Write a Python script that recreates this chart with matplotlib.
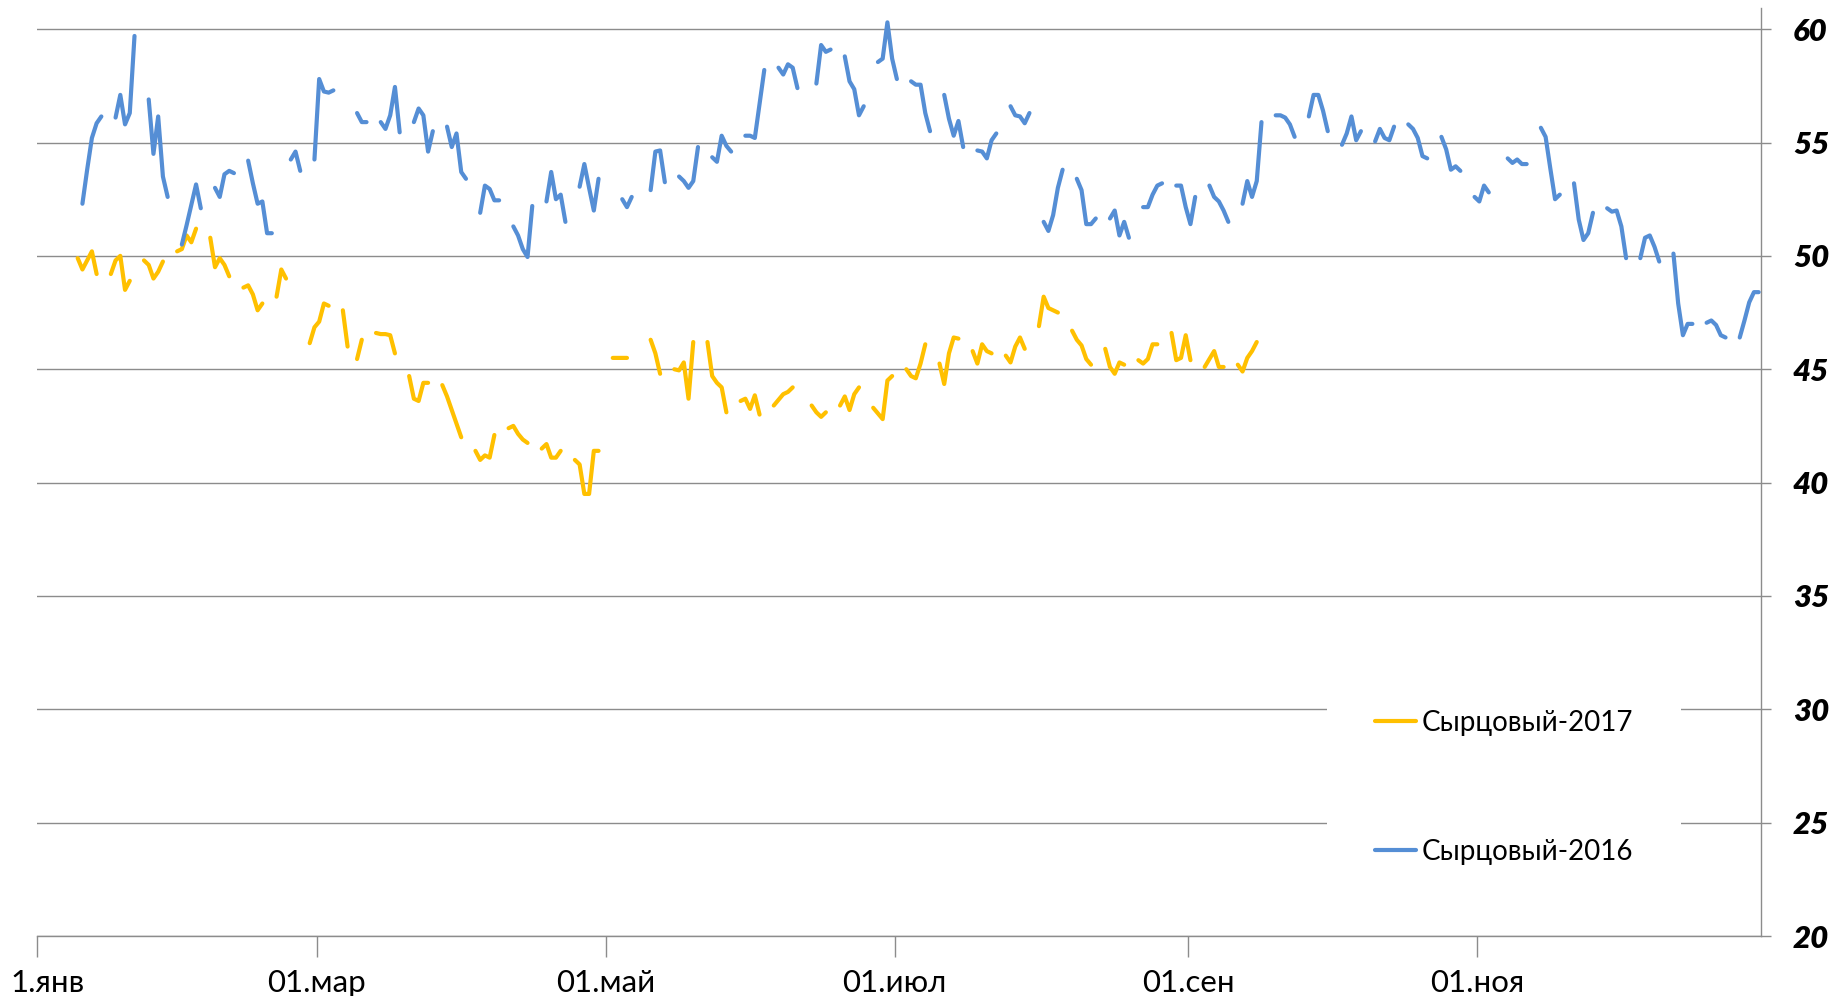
import matplotlib
matplotlib.use("Agg")
import matplotlib.pyplot as plt
import matplotlib.transforms as mtransforms
import numpy as np
import pandas as pd

plt.rcParams['font.family'] = ['Lato', 'Open Sans', 'DejaVu Sans']

# x axis: calendar of 2017, ticks every two months
tick_dates = ["2017-01-01", "2017-03-01", "2017-05-01", "2017-07-01", "2017-09-01", "2017-11-01"]
tick_labels = ["1.янв", "01.мар", "01.май", "01.июл", "01.сен", "01.ноя"]

# Сырцовый-2017: trading weeks starting Monday 9 Jan 2017 (None = holiday)
start_2017 = "2017-01-09"
weeks_2017 = [
    [49.9, 49.4, 49.8, 50.2, 49.2],
    [49.2, 49.8, 50.0, 48.5, 48.9],
    [49.8, 49.6, 49.0, 49.3, 49.75],
    [50.2, 50.3, 50.9, 50.6, 51.2],
    [50.8, 49.5, 49.9, 49.6, 49.1],
    [48.6, 48.7, 48.3, 47.6, 47.9],
    [48.2, 49.4, 49.0, None, None],
    [46.15, 46.85, 47.1, 47.9, 47.8],
    [47.6, 46.0, None, 45.45, 46.3],
    [46.6, 46.55, 46.55, 46.5, 45.7],
    [44.7, 43.7, 43.6, 44.4, 44.4],
    [44.3, 43.8, 43.2, 42.6, 42.0],
    [41.4, 41.0, 41.2, 41.1, 42.1],
    [42.4, 42.5, 42.15, 41.9, 41.75],
    [41.5, 41.7, 41.1, 41.1, 41.4],
    [41.0, 40.8, 39.5, 39.5, 41.4, 41.4],
    [None, 45.5, 45.5, 45.5, 45.5],
    [None, None, 46.3, 45.7, 44.8],
    [45.0, 44.95, 45.3, 43.7, 46.2],
    [46.2, 44.7, 44.4, 44.2, 43.1],
    [43.6, 43.7, 43.25, 43.85, 43.0],
    [43.4, 43.65, 43.9, 44.0, 44.2],
    [None, 43.4, 43.1, 42.9, 43.1],
    [43.4, 43.8, 43.2, 43.9, 44.2],
    [43.3, 43.05, 42.8, 44.5, 44.7],
    [45.0, 44.7, 44.6, 45.25, 46.1],
    [45.25, 44.35, 45.7, 46.4, 46.35],
    [45.8, 45.25, 46.1, 45.8, 45.7],
    [45.6, 45.3, 46.0, 46.4, 45.9],
    [46.9, 48.2, 47.7, 47.6, 47.5],
    [46.7, 46.3, 46.05, 45.45, 45.2],
    [45.9, 45.1, 44.8, 45.3, 45.2],
    [45.4, 45.25, 45.45, 46.1, 46.1],
    [46.6, 45.4, 45.5, 46.5, 45.4],
    [45.1, 45.45, 45.8, 45.1, 45.1],
    [45.2, 44.9, 45.5, 45.8, 46.2],
]

# Сырцовый-2016: 2016 trading weeks shifted one year (+365 days), first week starts Tue 10 Jan 2017
start_2016 = "2017-01-10"
weeks_2016 = [
    [52.3, 53.8, 55.2, 55.85, 56.15],
    [56.1, 57.1, 55.8, 56.3, 59.7],
    [56.9, 54.5, 56.15, 53.5, 52.6],
    [50.5, 51.35, 52.25, 53.15, 52.1],
    [53.0, 52.6, 53.6, 53.75, 53.65],
    [54.2, 53.2, 52.3, 52.4, 51.0, 51.0],
    [None, None, 54.25, 54.6, 53.75],
    [54.25, 57.8, 57.25, 57.2, 57.3],
    [None, None, 56.3, 55.9, 55.9],
    [55.9, 55.6, 56.2, 57.45, 55.45],
    [55.9, 56.5, 56.2, 54.6, 55.5],
    [55.7, 54.8, 55.4, 53.7, 53.4],
    [51.9, 53.1, 52.95, 52.45, 52.45],
    [51.3, 50.9, 50.3, 49.95, 52.2],
    [52.4, 53.7, 52.5, 52.7, 51.5],
    [53.05, 54.05, 53.0, 52.0, 53.4],
    [None, None, 52.5, 52.15, 52.6],
    [None, 52.9, 54.6, 54.65, 53.25],
    [53.5, 53.3, 53.0, 53.3, 54.8],
    [54.35, 54.15, 55.3, 54.85, 54.6],
    [55.3, 55.3, 55.2, 56.7, 58.2],
    [58.3, 58.0, 58.45, 58.3, 57.4],
    [None, 57.6, 59.3, 59.0, 59.1],
    [58.8, 57.7, 57.35, 56.2, 56.6],
    [58.55, 58.7, 60.3, 58.7, 57.8],
    [57.7, 57.55, 57.55, 56.3, 55.5],
    [57.1, 56.05, 55.3, 55.95, 54.8],
    [54.65, 54.6, 54.3, 55.1, 55.4],
    [56.6, 56.2, 56.15, 55.85, 56.3],
    [51.5, 51.1, 51.8, 53.0, 53.8],
    [53.4, 52.9, 51.4, 51.4, 51.65],
    [51.65, 52.0, 50.9, 51.5, 50.8],
    [52.15, 52.15, 52.7, 53.1, 53.2],
    [53.1, 53.1, 52.15, 51.4, 52.6],
    [53.1, 52.6, 52.4, 52.0, 51.5],
    [52.3, 53.3, 52.6, 53.3, 55.9],
    [56.2, 56.2, 56.1, 55.8, 55.25],
    [56.15, 57.1, 57.1, 56.4, 55.5],
    [54.9, 55.4, 56.15, 55.1, 55.5],
    [55.05, 55.6, 55.2, 55.1, 55.7],
    [55.8, 55.6, 55.2, 54.4, 54.3],
    [55.25, 54.7, 53.8, 53.95, 53.75],
    [52.6, 52.4, 53.1, 52.8, None],
    [54.3, 54.1, 54.25, 54.05, 54.05],
    [55.65, 55.25, 53.85, 52.5, 52.7],
    [53.2, 51.6, 50.7, 51.0, 51.9],
    [52.1, 51.95, 52.0, 51.3, 49.9],
    [49.9, 50.8, 50.9, 50.4, 49.75],
    [50.1, 47.9, 46.5, 47.0, 47.0],
    [47.05, 47.15, 46.95, 46.5, 46.4],
    [46.4, 47.15, 47.95, 48.4, 48.4],
]

label_2017 = "Сырцовый-2017"
label_2016 = "Сырцовый-2016"


def daily_series(start, weeks):
    # spread weekly rows over a daily calendar, weekends/holidays stay NaN -> gaps
    first = pd.Timestamp(start)
    days = pd.date_range(first, first + pd.Timedelta(days=7 * len(weeks)), freq="D")
    s = pd.Series(np.nan, index=days)
    for w, row in enumerate(weeks):
        for i, v in enumerate(row):
            if v is not None:
                s[first + pd.Timedelta(days=7 * w + i)] = v
    # Excel date axis draws each point in the middle of its day
    s.index = s.index + pd.Timedelta(hours=12)
    return s


s2017 = daily_series(start_2017, weeks_2017)
s2016 = daily_series(start_2016, weeks_2016)

fig = plt.figure(figsize=(18.35, 9.96), dpi=100)
ax = fig.add_axes([0.0204, 0.0602, 0.9393, 0.9317])

yellow = "#FFC000"
blue = "#558ED5"
grey = "#8C8C8C"

l17, = ax.plot(s2017.index, s2017.values, color=yellow, lw=3.0,
               solid_capstyle="round", solid_joinstyle="round", label=label_2017, zorder=3)
l16, = ax.plot(s2016.index, s2016.values, color=blue, lw=3.0,
               solid_capstyle="round", solid_joinstyle="round", label=label_2016, zorder=3)

ax.set_xlim(pd.Timestamp("2017-01-01"), pd.Timestamp("2017-12-31"))
ax.set_ylim(20, 60.93)

ax.set_xticks(pd.to_datetime(tick_dates))
ax.set_xticklabels(tick_labels, fontsize=22.5)
ax.set_yticks(range(20, 61, 5))
ax.set_yticklabels([str(v) for v in range(20, 61, 5)], fontsize=22.5,
                   fontweight="heavy", fontstyle="italic")

ax.yaxis.tick_right()
ax.tick_params(axis="x", direction="out", length=15, width=1, color=grey, pad=9)
ax.tick_params(axis="y", direction="out", length=7, width=1, color=grey, pad=16)
ax.yaxis.grid(True, color=grey, lw=1)
ax.set_axisbelow(True)

for side in ["top", "left"]:
    ax.spines[side].set_visible(False)
for side in ["bottom", "right"]:
    ax.spines[side].set_color(grey)
    ax.spines[side].set_linewidth(1)

# first label is nudged right, as in the original
first = ax.get_xticklabels()[0]
first.set_transform(first.get_transform() + mtransforms.ScaledTranslation(0.1, 0, fig.dpi_scale_trans))

leg = ax.legend(handles=[l17, l16], loc="center", bbox_to_anchor=(0.8196, 0.2093),
                bbox_transform=fig.transFigure, fontsize=20, frameon=True,
                fancybox=False, framealpha=1, facecolor="white", edgecolor="none",
                handlelength=1.5, handletextpad=0.2, labelspacing=3.7, borderpad=1.7)

fig.savefig("out.png", dpi=100)
